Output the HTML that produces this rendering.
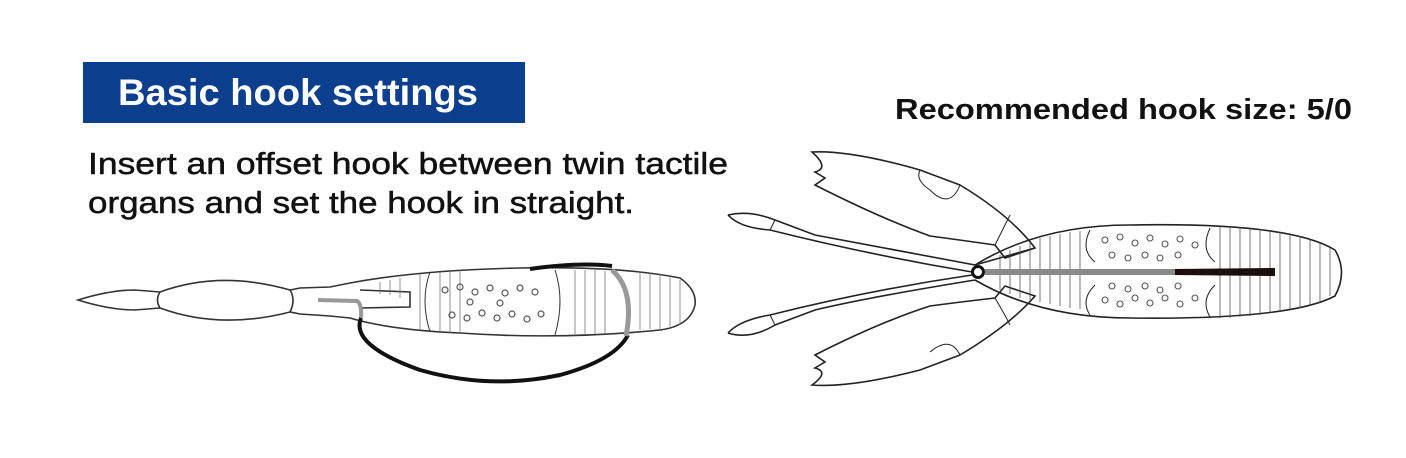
<!DOCTYPE html>
<html><head><meta charset="utf-8"><style>
html,body{margin:0;padding:0;background:#fff;width:1406px;height:458px;overflow:hidden}
svg{display:block}
text{font-family:"Liberation Sans",sans-serif}
</style></head><body>
<svg width="1406" height="458" viewBox="0 0 1406 458" xmlns="http://www.w3.org/2000/svg">
<rect x="83" y="62" width="442" height="61" fill="#0b3f8e"/>
<text x="118" y="105" font-size="37" font-weight="bold" fill="#fff" textLength="360" lengthAdjust="spacingAndGlyphs">Basic hook settings</text>
<text x="88" y="174" font-size="31" fill="#111" stroke="#111" stroke-width="0.5" textLength="640" lengthAdjust="spacingAndGlyphs">Insert an offset hook between twin tactile</text>
<text x="88" y="213" font-size="31" fill="#111" stroke="#111" stroke-width="0.5" textLength="546" lengthAdjust="spacingAndGlyphs">organs and set the hook in straight.</text>
<text x="895" y="119" font-size="29" font-weight="bold" fill="#111" textLength="457" lengthAdjust="spacingAndGlyphs">Recommended hook size: 5/0</text>

<!-- left lure -->
<g fill="none" stroke="#333" stroke-width="1.6">
<path d="M78,300 Q110,290 135,290 L160,292 Q220,270 290,290 L300,288 L330,287 L350,283 Q420,270 520,268 Q620,266 680,278 Q697,290 695,305 Q690,326 660,330 Q560,340 460,333 Q390,330 350,318 L330,316 L300,314 L290,312 Q220,330 160,308 L135,310 Q110,310 78,300 Z"/>
<path d="M160,292 Q155,300 160,308"/>
<path d="M290,290 Q296,300 290,312"/>
<path d="M360,290 L410,292 L410,307 L360,308"/>
<path d="M430,272 Q420,300 430,332" stroke-width="1"/>
<path d="M555,270 Q565,300 555,335" stroke-width="1"/>
</g>
<g stroke="#777" stroke-width="0.8">
<path d="M440,272v60M450,271v62M460,270v63M575,270v64M585,270v64M595,270v64M605,271v62M640,272v58M650,273v56M660,274v55M670,276v52M680,280v45M420,274v56M400,278v20M390,280v15M380,282v12"/>
</g>
<g fill="none" stroke="#555" stroke-width="1.2">
<circle cx="445" cy="290" r="3"/><circle cx="460" cy="287" r="3"/><circle cx="475" cy="292" r="3"/><circle cx="490" cy="288" r="3"/><circle cx="505" cy="293" r="3"/><circle cx="520" cy="288" r="3"/><circle cx="535" cy="292" r="3"/>
<circle cx="452" cy="315" r="3"/><circle cx="467" cy="318" r="3"/><circle cx="482" cy="313" r="3"/><circle cx="497" cy="318" r="3"/><circle cx="512" cy="314" r="3"/><circle cx="527" cy="319" r="3"/><circle cx="541" cy="314" r="3"/>
<circle cx="470" cy="302" r="3"/><circle cx="500" cy="303" r="3"/>
</g>
<path d="M530,269 Q580,262 612,266" fill="none" stroke="#111" stroke-width="4"/>
<path d="M318,300 L357,301 Q362,304 361,318" fill="none" stroke="#999" stroke-width="4"/>
<path d="M361,318 Q350,345 420,370 Q490,390 560,375 Q615,360 628,335" fill="none" stroke="#111" stroke-width="4"/>
<path d="M612,270 Q635,290 626,336" fill="none" stroke="#999" stroke-width="5"/>

<!-- right lure -->
<g fill="none" stroke="#222" stroke-width="1.6">
<path d="M975,265 Q1040,225 1130,225 Q1290,222 1335,250 Q1348,272 1335,296 Q1290,320 1130,318 Q1040,318 975,280"/>
<path d="M975,265 L1035,248 L975,265"/>
<path d="M812,152 Q850,150 920,170 L960,185 Q1010,215 1035,248 L1005,258 L995,245 Q960,240 930,236 Q880,218 815,185 L825,178 L815,172 Q830,168 812,152 Z"/>
<path d="M812,385 Q850,388 920,370 L960,355 Q1010,325 1035,296 L1005,286 L995,298 Q960,302 930,306 Q880,322 815,355 L825,362 L815,368 Q830,372 812,385 Z"/>
<path d="M728,215 Q750,210 775,220 L815,235 Q870,245 975,265"/>
<path d="M728,215 Q740,228 770,230 Q870,255 972,272"/>
<path d="M728,333 Q750,340 775,325 L815,310 Q870,297 975,280"/>
<path d="M728,333 Q740,320 770,315 Q870,290 972,275"/>
<path d="M775,220 L770,230 M775,325 L770,315" stroke-width="1"/>
<path d="M920,170 Q915,180 930,190 Q950,210 960,185 M960,355 Q950,335 930,352 M995,245 Q1005,225 1010,215 M995,298 Q1005,315 1010,325" stroke-width="1"/>
<path d="M1090,230 Q1080,250 1095,262 M1090,315 Q1080,300 1095,285 M1210,228 Q1200,250 1215,262 M1210,317 Q1200,300 1215,285" stroke-width="1"/>
</g>
<g stroke="#555" stroke-width="0.8">
<path d="M1000,255v35M1010,250v44M1020,246v52M1030,242v58M1040,238v64M1050,236v68M1060,234v72M1070,232v76M1080,231v78M1220,226v92M1230,226v92M1240,227v90M1250,228v88M1260,229v86M1270,231v82M1280,232v80M1290,234v76M1300,236v72M1310,239v66M1320,243v58M1330,248v48"/>
</g>
<g fill="none" stroke="#555" stroke-width="1.1">
<circle cx="1105" cy="240" r="3"/><circle cx="1120" cy="237" r="3"/><circle cx="1135" cy="243" r="3"/><circle cx="1150" cy="238" r="3"/><circle cx="1165" cy="244" r="3"/><circle cx="1180" cy="239" r="3"/><circle cx="1195" cy="245" r="3"/>
<circle cx="1112" cy="255" r="3"/><circle cx="1128" cy="258" r="3"/><circle cx="1145" cy="255" r="3"/><circle cx="1160" cy="258" r="3"/><circle cx="1178" cy="255" r="3"/>
<circle cx="1105" cy="300" r="3"/><circle cx="1120" cy="304" r="3"/><circle cx="1135" cy="298" r="3"/><circle cx="1150" cy="303" r="3"/><circle cx="1165" cy="298" r="3"/><circle cx="1180" cy="304" r="3"/><circle cx="1195" cy="298" r="3"/>
<circle cx="1112" cy="286" r="3"/><circle cx="1128" cy="289" r="3"/><circle cx="1145" cy="286" r="3"/><circle cx="1160" cy="290" r="3"/><circle cx="1178" cy="286" r="3"/>
</g>
<rect x="985" y="269" width="190" height="6" fill="#8a8a8a"/>
<path d="M1175,269 L1275,268 L1275,276 L1175,275 Z" fill="#1a1010"/>
<circle cx="978" cy="272" r="5.5" fill="#fff" stroke="#111" stroke-width="3"/>
</svg>
</body></html>
